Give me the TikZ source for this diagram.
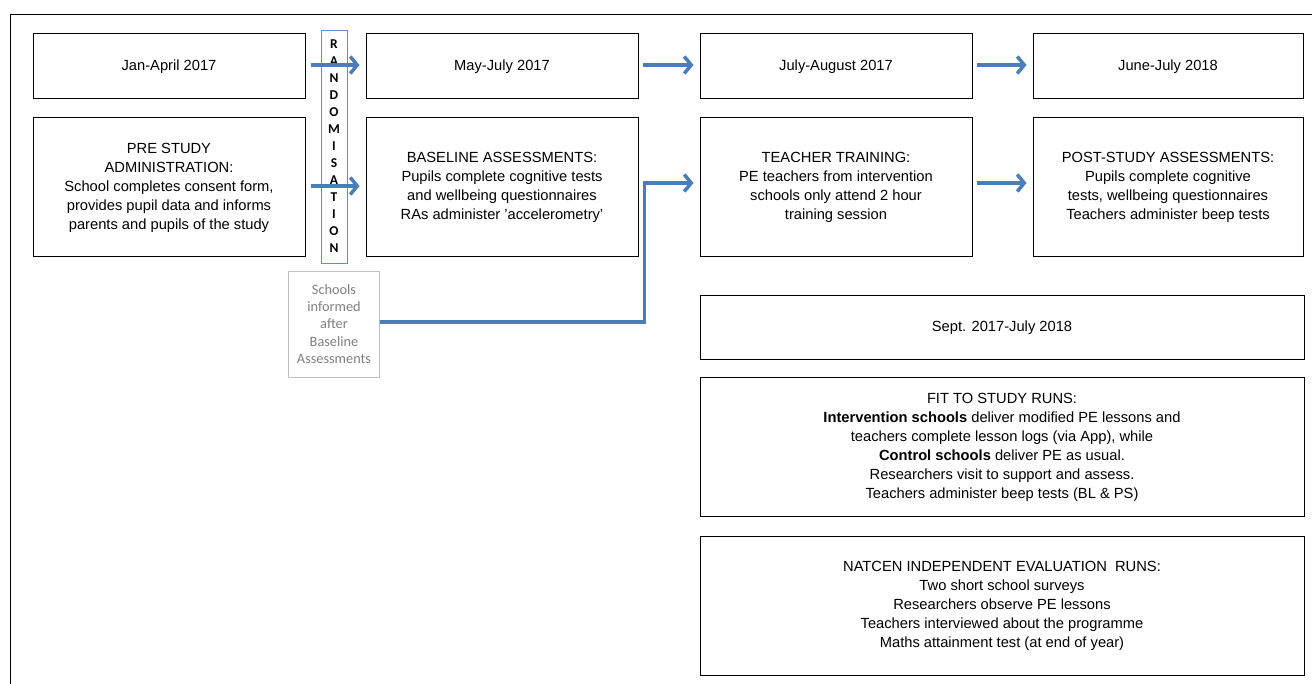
\documentclass[tikz,border=0pt]{standalone}
\usepackage{fontspec}
\setmainfont{Liberation Sans}
\newfontfamily\calibri{Carlito}
\usetikzlibrary{arrows.meta}

\definecolor{arrowblue}{HTML}{4A7EBB}
\definecolor{randblue}{HTML}{5B8FCF}
\definecolor{notegray}{HTML}{808080}
\definecolor{noteline}{HTML}{C0C0C0}

\tikzset{
    box/.style={draw, line width=1pt, align=center, inner sep=0pt,
        minimum width=272pt, font=\fontsize{14.7}{19}\selectfont},
    datebox/.style={box, minimum height=65pt},
    stagebox/.style={box, minimum height=139pt},
    widebox/.style={box, minimum width=604pt},
    randbox/.style={draw=randblue, line width=0.9pt, align=center, inner sep=0pt,
        minimum width=26pt, minimum height=233pt,
        font=\calibri\bfseries\fontsize{13.5}{17}\selectfont},
    note/.style={draw=noteline, line width=0.8pt, align=center, inner sep=0pt,
        minimum width=91pt, minimum height=106pt, text=notegray,
        font=\calibri\fontsize{14.3}{17.2}\selectfont},
    flow/.style={draw=arrowblue, line width=3.5pt,
        -{Straight Barb[length=7pt,width=17pt]}}
}

\begin{document}
\begin{tikzpicture}[x=1pt,y=-1pt]
    \useasboundingbox (0,0) rectangle (1312,684);
    \draw[line width=1pt] (10,684) -- (10,15) -- (1312,15);

    \node[datebox] (jan) at (169,66.5) {Jan-April 2017};
    \node[stagebox] (pre) at (169,187.5)
        {PRE STUDY\\ADMINISTRATION:\\School completes consent form,\\provides pupil data and informs\\parents and pupils of the study};

    \node[datebox] (may) at (502,66.5) {May-July 2017};
    \node[stagebox] (base) at (502,187.5)
        {BASELINE ASSESSMENTS:\\Pupils complete cognitive tests\\and wellbeing questionnaires\\RAs administer 'accelerometry'};

    \node[datebox] (jul) at (836,66.5) {July-August 2017};
    \node[stagebox] (train) at (836,187.5)
        {TEACHER TRAINING:\\PE teachers from intervention\\schools only attend 2 hour\\training session};

    \node[datebox, minimum width=270pt] (jun) at (1168,66.5) {June-July 2018};
    \node[stagebox, minimum width=270pt] (post) at (1168,187.5)
        {POST-STUDY ASSESSMENTS:\\Pupils complete cognitive\\tests, wellbeing questionnaires\\Teachers administer beep tests};

    \node[widebox, minimum height=64pt] (sept) at (1002,328) {Sept. 2017-July 2018};
    \node[widebox, minimum height=138pt] (fit) at (1002,447)
        {FIT TO STUDY RUNS:\\\textbf{Intervention schools} deliver modified PE lessons and\\teachers complete lesson logs (via App), while\\\textbf{Control schools} deliver PE as usual.\\Researchers visit to support and assess.\\Teachers administer beep tests (BL \& PS)};
    \node[widebox, minimum height=139pt] (natcen) at (1002,605.5)
        {NATCEN INDEPENDENT EVALUATION\ \ RUNS:\\Two short school surveys\\Researchers observe PE lessons\\Teachers interviewed about the programme\\Maths attainment test (at end of year)};

    \node[randbox] (rand) at (334,146.5)
        {R\\A\\N\\D\\O\\M\\I\\S\\A\\T\\I\\O\\N};
    \node[note] (schools) at (334,324)
        {Schools\\informed\\after\\Baseline\\Assessments};

    \draw[flow, shorten <=5pt, shorten >=6pt] ([yshift=1.5pt]jan.east) -- ([yshift=1.5pt]may.west);
    \draw[flow, shorten <=5pt, shorten >=6pt] ([yshift=1.5pt]pre.east) -- ([yshift=1.5pt]base.west);
    \draw[flow, shorten <=4pt, shorten >=6pt] ([yshift=1.5pt]may.east) -- ([yshift=1.5pt]jul.west);
    \draw[flow, shorten <=4pt, shorten >=6pt] ([yshift=1.5pt]jul.east) -- ([yshift=1.5pt]jun.west);
    \draw[flow, shorten <=4pt, shorten >=6pt] ([yshift=4.5pt]train.east) -- ([yshift=4.5pt]post.west);
    \draw[flow, shorten >=6pt] ([yshift=2pt]schools.east) -| ([xshift=-55pt,yshift=4.5pt]train.west)
        -- ([yshift=4.5pt]train.west);
\end{tikzpicture}
\end{document}
